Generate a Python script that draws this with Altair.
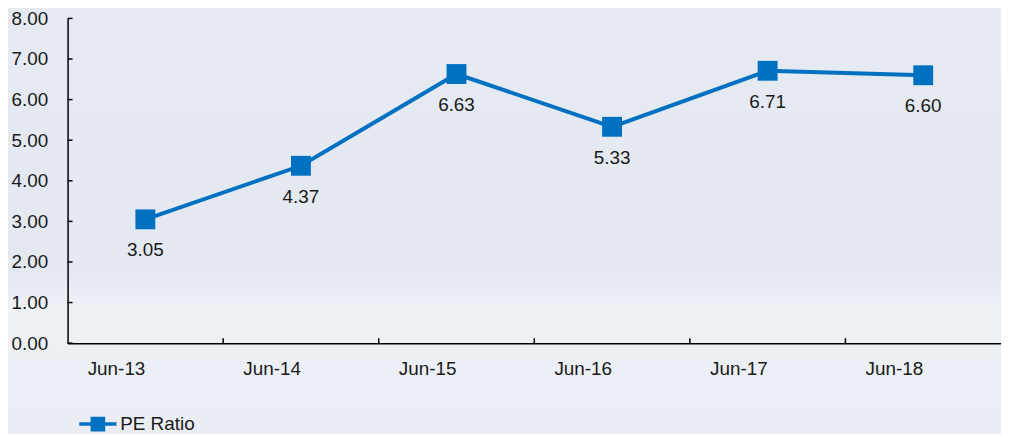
import altair as alt
import pandas as pd

periods = ["Jun-13", "Jun-14", "Jun-15", "Jun-16", "Jun-17", "Jun-18"]
pe_ratio = [3.05, 4.37, 6.63, 5.33, 6.71, 6.60]
y_ticks = [0, 1, 2, 3, 4, 5, 6, 7, 8]
series_name = "PE Ratio"

df = pd.DataFrame({"period": periods, "value": pe_ratio, "series": [series_name] * len(periods),
                   "label": [f"{v:.2f}" for v in pe_ratio]})
ticks_df = pd.DataFrame({"t": y_ticks})
bounds_df = pd.DataFrame({"period": periods[1:]})

W, H = 940, 327
BLUE = "#0070c0"
FONT = "Liberation Sans"
FS = 19
TXT = "#1a1a1a"

xsc = alt.Scale(domain=periods, paddingInner=0, paddingOuter=0)
ysc = alt.Scale(domain=[0, 8], nice=False)

xenc = alt.X("period:N", scale=xsc, sort=periods,
             axis=alt.Axis(title=None, labelAngle=0, ticks=False, domain=True, domainColor="#000",
                           domainWidth=1.5, labelFontSize=FS, labelColor=TXT, labelPadding=26,
                           labelFont=FONT, zindex=1))

bg = alt.Chart(pd.DataFrame({"a": [0]})).mark_rect(
    clip=False,
    color=alt.Gradient(gradient="linear", x1=0, y1=0, x2=0, y2=1,
                       stops=[alt.GradientStop(offset=0, color="#e6eaf2"),
                              alt.GradientStop(offset=0.6, color="#e4e8f1"),
                              alt.GradientStop(offset=0.68, color="#eef1f6"),
                              alt.GradientStop(offset=1, color="#e9edf3")])
).encode(x=alt.value(-70), x2=alt.value(W + 20), y=alt.value(-20), y2=alt.value(H + 110))

line = alt.Chart(df).mark_line(color=BLUE, strokeWidth=4).encode(
    x=xenc,
    y=alt.Y("value:Q", scale=ysc,
            axis=alt.Axis(title=None, values=y_ticks, format=".2f", ticks=False, grid=False,
                          domainColor="#000", domainWidth=1.5, labelFontSize=FS, labelColor=TXT,
                          labelPadding=20, labelFont=FONT, zindex=1)),
    color=alt.Color("series:N", scale=alt.Scale(domain=[series_name], range=[BLUE]),
                    legend=alt.Legend(title=None, orient="none", legendX=10, legendY=H + 61,
                                      symbolType="M-1,0H1M-0.3,-0.3H0.3V0.3H-0.3Z",
                                      symbolSize=1400, symbolStrokeWidth=3.5,
                                      symbolFillColor=BLUE, symbolStrokeColor=BLUE,
                                      labelFontSize=FS, labelFont=FONT, labelColor=TXT,
                                      labelOffset=2, zindex=1)),
)

points = alt.Chart(df).mark_point(shape="square", filled=True, size=400, color=BLUE, opacity=1).encode(
    x=alt.X("period:N", scale=xsc, sort=periods), y=alt.Y("value:Q", scale=ysc))

labels = alt.Chart(df).mark_text(dy=31, fontSize=FS, font=FONT, color=TXT).encode(
    x=alt.X("period:N", scale=xsc, sort=periods), y=alt.Y("value:Q", scale=ysc), text="label:N")

yt = alt.Chart(ticks_df).mark_rule(color="#000", strokeWidth=1.5).encode(
    y=alt.Y("t:Q", scale=ysc), x=alt.value(0), x2=alt.value(5))

xt = alt.Chart(bounds_df).mark_rule(color="#000", strokeWidth=1.5).encode(
    x=alt.X("period:N", scale=xsc, sort=periods, bandPosition=0), y=alt.value(H - 5), y2=alt.value(H))

chart = alt.layer(bg, yt, xt, line, points, labels).properties(
    width=W, height=H,
    autosize=alt.AutoSizeParams(type="none"),
    padding={"left": 60, "top": 9, "right": 0, "bottom": 90},
).configure(background="#e8ecf3").configure_view(stroke=None)

chart.save("out.html", embed_options={"renderer": "svg", "actions": False})
